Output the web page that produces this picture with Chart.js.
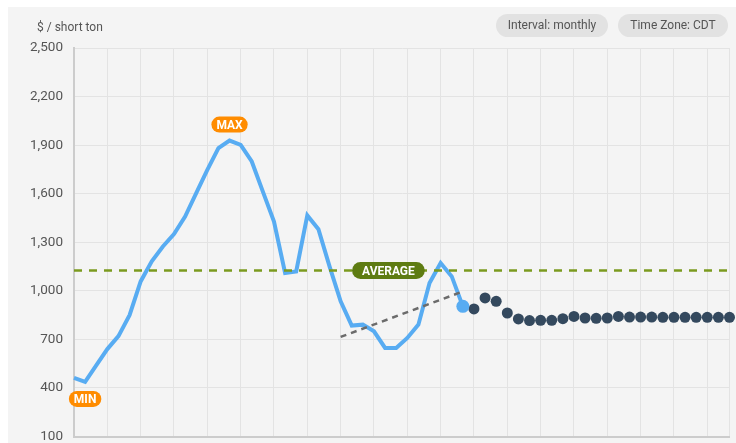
<!DOCTYPE html>
<html>
<head>
<meta charset="utf-8">
<script src="https://cdn.jsdelivr.net/npm/chart.js@4.4.0/dist/chart.umd.min.js"></script>
<style>
    body { margin: 0; background: #ffffff; font-family: Roboto, 'Open Sans', sans-serif; }
    #panel { position: absolute; left: 8px; top: 7px; right: 0; bottom: 0; background: #f4f4f4; }
    #chartBox { position: absolute; left: 0; top: 0; width: 736px; height: 443px; }
    .unit { position: absolute; left: 37px; top: 20px; font-size: 12px; color: #555; }
    .badge { position: absolute; top: 14px; height: 23px; line-height: 23px; border-radius: 12px;
             background: #e2e2e2; color: #555; font-size: 12px; text-align: center; }
</style>
</head>
<body>
<div id="panel"></div>
<div id="chartBox"><canvas id="priceChart"></canvas></div>
<div class="unit">$ / short ton</div>
<div class="badge" style="left:496px; width:112px;">Interval: monthly</div>
<div class="badge" style="left:618px; width:110px;">Time Zone: CDT</div>

<script>
// Monthly prices, $ / short ton
const actualPrices = [462, 437, 540, 640, 720, 850, 1058, 1182, 1274, 1350,
    1459, 1603, 1747, 1881, 1928, 1902, 1799, 1613, 1428, 1110,
    1120, 1466, 1381, 1151, 935, 785, 791, 750, 647, 647,
    709, 791, 1048, 1172, 1089, 904];
const forecastPrices = [888, 956, 935, 863, 826, 816, 818, 818, 828, 842,
    832, 830, 832, 842, 838, 838, 838, 836, 836, 836,
    836, 836, 836, 836];
const averagePrice = 1125;
const trendStart = [24, 715];
const trendEnd = [35, 996];
const averageLabelX = 28.3;
const yTickValues = [100, 400, 700, 1000, 1300, 1600, 1900, 2200, 2500];

const lastMonth = actualPrices.length + forecastPrices.length - 1;
const actualPoints = actualPrices.map((v, i) => ({ x: i, y: v }));
const forecastPoints = forecastPrices.map((v, i) => ({ x: actualPrices.length + i, y: v }));

function pill(ctx, text, cx, cy, bg, padX, h) {
    ctx.save();
    ctx.font = 'bold 12px Roboto, sans-serif';
    const w = ctx.measureText(text).width + padX * 2;
    ctx.fillStyle = bg;
    ctx.beginPath();
    ctx.roundRect(cx - w / 2, cy - h / 2, w, h, h / 2);
    ctx.fill();
    ctx.fillStyle = '#ffffff';
    ctx.textAlign = 'center';
    ctx.textBaseline = 'middle';
    ctx.fillText(text, cx, cy + 1);
    ctx.restore();
}

// MAX / MIN / AVERAGE tags
const tagPlugin = {
    id: 'tags',
    afterDatasetsDraw(chart) {
        const ctx = chart.ctx;
        const xs = chart.scales.x, ys = chart.scales.y;
        const maxVal = Math.max(...actualPrices);
        const minVal = Math.min(...actualPrices);
        const maxIdx = actualPrices.indexOf(maxVal);
        const minIdx = actualPrices.indexOf(minVal);
        pill(ctx, 'AVERAGE', xs.getPixelForValue(averageLabelX), ys.getPixelForValue(averagePrice), '#5e7c12', 10, 17);
        pill(ctx, 'MAX', xs.getPixelForValue(maxIdx), ys.getPixelForValue(maxVal) - 16, '#ff8c00', 5, 16);
        pill(ctx, 'MIN', xs.getPixelForValue(minIdx), ys.getPixelForValue(minVal) + 17, '#ff8c00', 5, 16);
    }
};

document.addEventListener('DOMContentLoaded', function() {
    const ctx = document.getElementById('priceChart').getContext('2d');
    new Chart(ctx, {
        type: 'line',
        data: {
            datasets: [{
                label: 'Average',
                data: [{ x: 0, y: averagePrice }, { x: lastMonth, y: averagePrice }],
                borderColor: '#7b9a1f',
                borderWidth: 2.5,
                borderDash: [8, 7],
                pointRadius: 0
            }, {
                label: 'Trend',
                data: [{ x: trendStart[0], y: trendStart[1] }, { x: trendEnd[0], y: trendEnd[1] }],
                borderColor: '#6b6b6b',
                borderWidth: 2.5,
                borderDash: [6, 5],
                pointRadius: 0
            }, {
                label: 'Price',
                data: actualPoints,
                borderColor: '#58acf2',
                backgroundColor: '#58acf2',
                borderWidth: 4,
                pointRadius: c => c.dataIndex === actualPrices.length - 1 ? 6.5 : 0,
                pointBorderWidth: 0
            }, {
                label: 'Forecast',
                data: forecastPoints,
                showLine: false,
                backgroundColor: '#34495e',
                borderColor: '#34495e',
                pointRadius: 5.5,
                pointBorderWidth: 0
            }]
        },
        options: {
            animation: false,
            responsive: true,
            maintainAspectRatio: false,
            clip: false,
            layout: {
                padding: { top: 48, bottom: 6, right: 6, left: 0 }
            },
            plugins: {
                legend: { display: false },
                tooltip: { enabled: false }
            },
            scales: {
                x: {
                    type: 'linear',
                    min: 0,
                    max: lastMonth,
                    afterBuildTicks: axis => {
                        const t = [];
                        for (let i = 0; i < lastMonth; i += 3) t.push({ value: i });
                        t.push({ value: lastMonth });
                        axis.ticks = t;
                    },
                    afterFit: axis => { axis.height = 0; },
                    ticks: { display: false },
                    grid: { color: '#e3e3e3', lineWidth: 1, drawTicks: false },
                    border: { color: '#cccccc', width: 2 }
                },
                y: {
                    min: yTickValues[0],
                    max: yTickValues[yTickValues.length - 1],
                    afterBuildTicks: axis => {
                        axis.ticks = yTickValues.map(v => ({ value: v }));
                    },
                    afterFit: axis => {
                        axis.width = 74;
                        axis.paddingTop = 0;
                        axis.paddingBottom = 0;
                    },
                    ticks: {
                        padding: 11,
                        color: '#555555',
                        font: { family: 'Roboto, sans-serif', size: 13.5 }
                    },
                    grid: { color: '#e3e3e3', lineWidth: 1, drawTicks: false },
                    border: { color: '#cccccc', width: 2 }
                }
            }
        },
        plugins: [tagPlugin]
    });
});
</script>
</body>
</html>
